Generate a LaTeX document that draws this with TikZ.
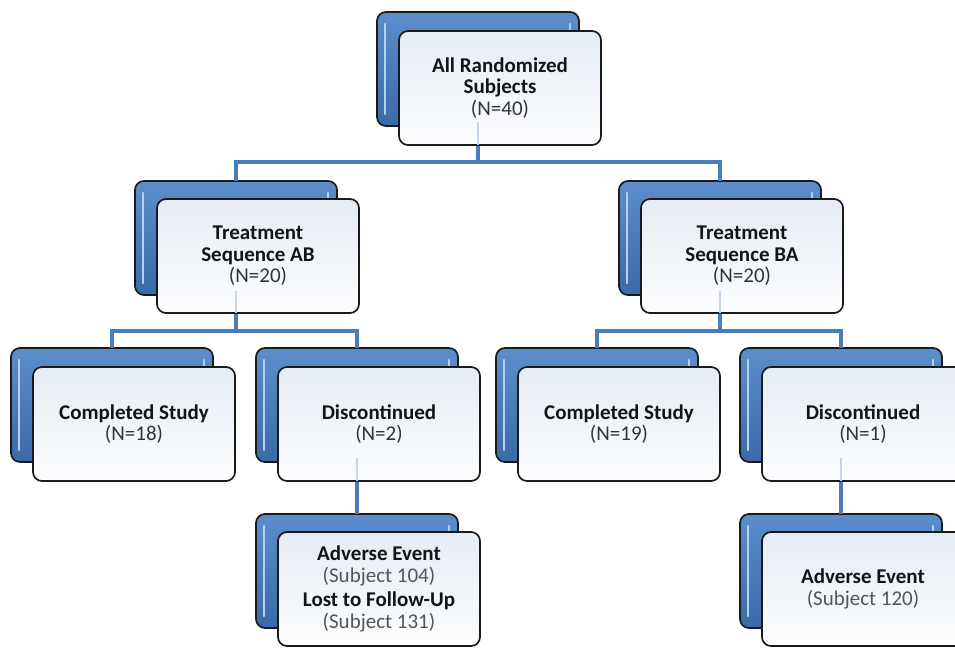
\documentclass[tikz,border=0pt]{standalone}
\usepackage{fontspec}
\setmainfont{Carlito}
\usetikzlibrary{calc}
\definecolor{linkblue}{HTML}{4A7DBA}
\definecolor{boxtop}{HTML}{5B8ECB}
\definecolor{boxbot}{HTML}{3A6AA7}
\definecolor{glintc}{HTML}{B8D0EE}
\definecolor{edge}{HTML}{1A1A1A}
\definecolor{cardtop}{HTML}{E6ECF4}
\definecolor{cardbot}{HTML}{FCFDFE}
\definecolor{headc}{HTML}{141414}
\definecolor{countc}{HTML}{333333}
\definecolor{subc}{HTML}{555555}
\definecolor{ghost}{HTML}{C9D6E8}

\tikzset{
  backbox/.style={draw=edge, line width=1.7, rounded corners=9,
    top color=boxtop, bottom color=boxbot,
    minimum width=202, minimum height=114, inner sep=0, outer sep=0},
  frontbox/.style={draw=edge, line width=1.7, rounded corners=9,
    top color=cardtop, bottom color=cardbot,
    minimum width=202, minimum height=114, inner sep=0, outer sep=0,
    align=center, text=headc, font=\fontsize{21}{21.5}\selectfont},
  link/.style={draw=linkblue, line width=3.2},
  ghostlink/.style={draw=ghost, line width=2},
  glint/.style={draw=glintc, line width=2.6, line cap=round},
}
% light vertical highlights inside a blue back box
\newcommand\boxglint[1]{%
  \draw[glint] ($(#1.north west)+(8,12)$) -- ($(#1.south west)+(8,-12)$);
  \draw[glint] ($(#1.north east)+(-9,12)$) -- ($(#1.south east)+(-9,-12)$);}
\newcommand\hd[1]{\textbf{#1}}
\newcommand\cnt[1]{{\color{countc}#1}}
\newcommand\sbj[1]{{\color{subc}#1}}

\begin{document}
\begin{tikzpicture}[x=1pt, y=-1pt]
\useasboundingbox (0,0) rectangle (955,648);
\clip (0,0) rectangle (955,648);
\fill[white] (0,0) rectangle (955,648);

% blue back boxes
\node[backbox] (b1)  at (478,69)  {};
\node[backbox] (b2a) at (236,238) {};
\node[backbox] (b2b) at (720,238) {};
\node[backbox] (b3a) at (112,405) {};
\node[backbox] (b3b) at (357,405) {};
\node[backbox] (b3c) at (597,405) {};
\node[backbox] (b3d) at (841,405) {};
\node[backbox] (b4a) at (357,571) {};
\node[backbox] (b4b) at (841,571) {};
\foreach \b in {b1,b2a,b2b,b3a,b3b,b3c,b3d,b4a,b4b}{\boxglint{\b}}

% connectors
\draw[link] (b1.south) -- (b1.south |- 0,162) -| (b2a.north);
\draw[link] (b1.south |- 0,162) -| (b2b.north);
\draw[link] (b2a.south) -- (b2a.south |- 0,331) -| (b3a.north);
\draw[link] (b2a.south |- 0,331) -| (b3b.north);
\draw[link] (b2b.south) -- (b2b.south |- 0,331) -| (b3c.north);
\draw[link] (b2b.south |- 0,331) -| (b3d.north);
\draw[link] (b3b.south) -- (b4a.north);
\draw[link] (b3d.south) -- (b4b.north);

% white front cards with the labels
\node[frontbox] (f1)  at (500,88)  {\hd{All Randomized}\\\hd{Subjects}\\\cnt{(N=40)}};
\node[frontbox] (f2a) at (258,256) {\hd{Treatment}\\\hd{Sequence AB}\\\cnt{(N=20)}};
\node[frontbox] (f2b) at (742,256) {\hd{Treatment}\\\hd{Sequence BA}\\\cnt{(N=20)}};
\node[frontbox] (f3a) at (134,424) {\hd{Completed Study}\\\cnt{(N=18)}};
\node[frontbox] (f3b) at (379,424) {\hd{Discontinued}\\\cnt{(N=2)}};
\node[frontbox] (f3c) at (619,424) {\hd{Completed Study}\\\cnt{(N=19)}};
\node[frontbox] (f3d) at (863,424) {\hd{Discontinued}\\\cnt{(N=1)}};
\node[frontbox] (f4a) at (379,589) {\hd{Adverse Event}\\\sbj{(Subject 104)}\\[3pt]\hd{Lost to Follow-Up}\\\sbj{(Subject 131)}};
\node[frontbox] (f4b) at (863,589) {\hd{Adverse Event}\\\sbj{(Subject 120)}};

% connectors faintly showing through the cards
\draw[ghostlink] ($(b1.south)+(0,-4)$) -- (b1.south |- f1.south);
\draw[ghostlink] ($(b2a.south)+(0,-4)$) -- (b2a.south |- f2a.south);
\draw[ghostlink] ($(b2b.south)+(0,-4)$) -- (b2b.south |- f2b.south);
\draw[ghostlink] ($(b3b.south)+(0,-4)$) -- (b3b.south |- f3b.south);
\draw[ghostlink] ($(b3d.south)+(0,-4)$) -- (b3d.south |- f3d.south);
\end{tikzpicture}
\end{document}
